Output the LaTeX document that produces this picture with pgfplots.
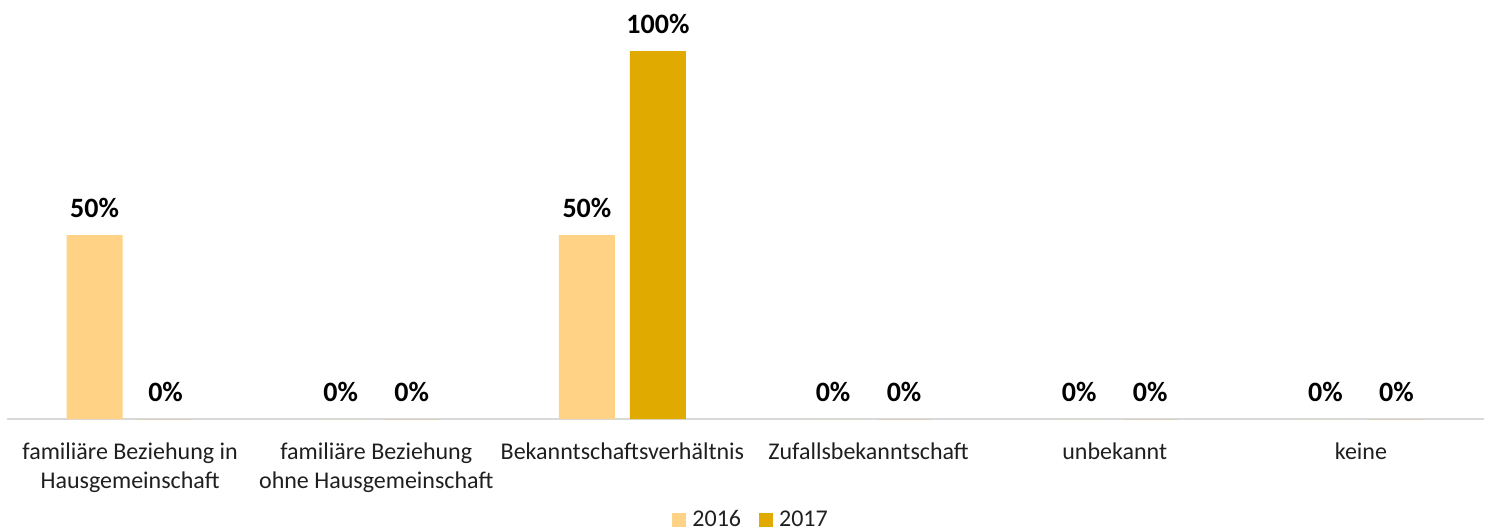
\documentclass[border=0pt]{standalone}
\usepackage{fontspec}
\setmainfont{Carlito}
\usepackage{pgfplots}
\pgfplotsset{compat=1.18}
\definecolor{c2016}{HTML}{FFD285}
\definecolor{c2017}{HTML}{E0AA00}
\definecolor{axgray}{HTML}{D9D9D9}
\begin{document}
\begin{tikzpicture}
\path[use as bounding box] (-3.5pt,-56pt) rectangle (740.5pt,209.5pt);
\begin{axis}[
  at={(0,0)}, anchor=south west,
  scale only axis, width=738.5pt, height=209.5pt,
  xmin=-0.5, xmax=5.5, ymin=0, ymax=113.86,
  ybar=7.5pt, bar width=28pt,
  hide y axis,
  axis x line*=bottom,
  x axis line style={draw=axgray, line width=0.8pt},
  xtick={0,1,2,3,4,5},
  xticklabels={{familiäre Beziehung in\\Hausgemeinschaft},{familiäre Beziehung\\ohne Hausgemeinschaft},Bekanntschaftsverhältnis,Zufallsbekanntschaft,unbekannt,keine},
  major tick length=0pt,
  xticklabel style={align=center, font=\fontsize{12}{14.5}\selectfont, text=black!88, anchor=north, inner sep=0pt, yshift=-11.5pt},
  clip=false,
  nodes near coords={\pgfmathprintnumber[assume math mode=true]{\pgfplotspointmeta}\%},
  every node near coord/.append style={font=\fontsize{14}{16}\selectfont\bfseries, text=black, anchor=base, inner sep=0pt, yshift=9pt},
  legend columns=2,
  legend style={draw=none, at={(0.5045,-0.241)}, anchor=center, font=\fontsize{12}{13}\selectfont, text=black!88,
    /tikz/every even column/.append style={column sep=7pt},
    /tikz/every odd column/.append style={column sep=1pt}, inner sep=0pt},
  legend cell align=left,
]
\addplot[fill=c2016, draw=none, legend image code/.code={\fill[c2016] (0pt,-3.5pt) rectangle (7pt,3.5pt);}] coordinates {(0,50) (1,0) (2,50) (3,0) (4,0) (5,0)};
\addplot[fill=c2017, draw=none, legend image code/.code={\fill[c2017] (0pt,-3.5pt) rectangle (7pt,3.5pt);}] coordinates {(0,0) (1,0) (2,100) (3,0) (4,0) (5,0)};
\legend{2016,2017}
\end{axis}
\end{tikzpicture}
\end{document}
